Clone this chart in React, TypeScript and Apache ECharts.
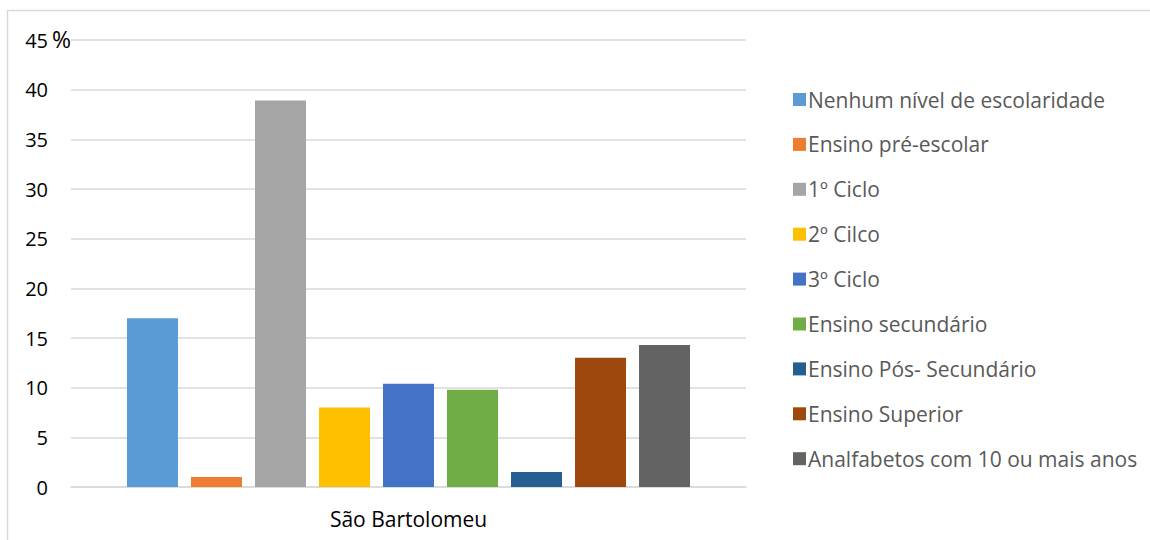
import React, { useEffect, useRef } from "react";
import * as echarts from "echarts";

const categories = ["São Bartolomeu"];
const seriesNames = [
  "Nenhum nível de escolaridade",
  "Ensino pré-escolar",
  "1º Ciclo",
  "2º Cilco",
  "3º Ciclo",
  "Ensino secundário",
  "Ensino Pós- Secundário",
  "Ensino Superior",
  "Analfabetos com 10 ou mais anos",
];
const seriesValues = [17.0, 1.0, 38.9, 8.0, 10.4, 9.8, 1.5, 13.0, 14.3];
const seriesColors = [
  "#5B9BD5",
  "#ED7D31",
  "#A5A5A5",
  "#FFC000",
  "#4472C4",
  "#70AD47",
  "#255E91",
  "#9E480E",
  "#636363",
];
const yMin = 0;
const yMax = 45;
const yInterval = 5;
const unitLabel = "%";

const FONT = "Open Sans";

export default function App() {
  const ref = useRef<HTMLDivElement>(null);
  useEffect(() => {
    if (!ref.current) return;
    const chart = echarts.init(ref.current, null, { renderer: "svg" });
    chart.setOption({
      animation: false,
      backgroundColor: "#ffffff",
      textStyle: { fontFamily: FONT },
      grid: { left: 71, right: 404, top: 40, bottom: 53, containLabel: false },
      graphic: [
        {
          type: "rect",
          shape: { x: 7.5, y: 10.5, width: 1200, height: 600 },
          style: { fill: "none", stroke: "#d9d9d9", lineWidth: 1.5 },
          silent: true,
        },
        {
          type: "text",
          left: 52,
          top: 27,
          style: { text: unitLabel, fontSize: 23, fill: "#000000", fontFamily: FONT },
        },
      ],
      xAxis: {
        type: "category",
        data: categories,
        axisLine: { show: true, lineStyle: { color: "#d9d9d9", width: 1.5 } },
        axisTick: { show: false },
        axisLabel: { color: "#000000", fontSize: 21, margin: 21, fontFamily: FONT },
      },
      yAxis: {
        type: "value",
        min: yMin,
        max: yMax,
        interval: yInterval,
        axisLine: { show: false },
        axisTick: { show: false },
        splitLine: { lineStyle: { color: "#d9d9d9", width: 1.5 } },
        axisLabel: {
          color: "#000000",
          fontSize: 20,
          margin: 23,
          fontFamily: FONT,
        },
      },
      legend: {
        orient: "vertical",
        left: 788,
        top: 84,
        itemWidth: 13,
        itemHeight: 13,
        itemGap: 23.9,
        icon: "rect",
        textStyle: { color: "#595959", fontSize: 21, fontFamily: FONT, padding: [0, 0, 0, -3] },
        data: seriesNames,
      },
      series: seriesNames.map((name, i) => ({
        name,
        type: "bar",
        data: [seriesValues[i]],
        barWidth: 51,
        barGap: "25.5%",
        itemStyle: { color: seriesColors[i] },
      })),
    });
    return () => chart.dispose();
  }, []);
  return (
    <div
      ref={ref}
      style={{ position: "absolute", left: 0, top: 0, width: 1150, height: 540 }}
    />
  );
}
